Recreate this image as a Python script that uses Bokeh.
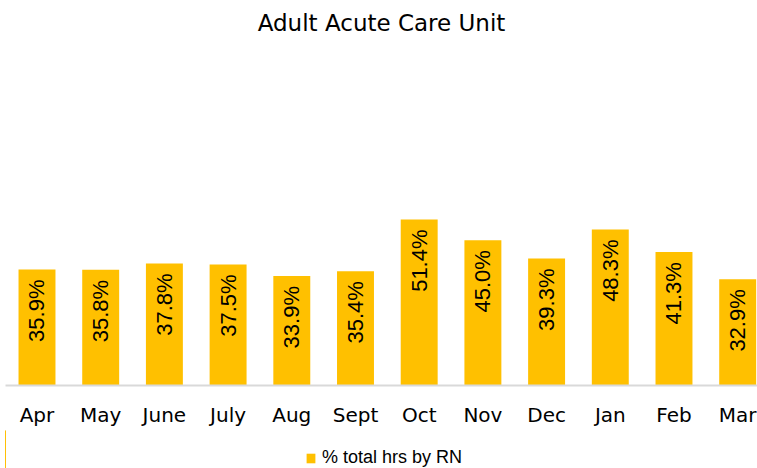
import math
from bokeh.plotting import figure
from bokeh.layouts import column
from bokeh.models import Range1d, FixedTicker, ColumnDataSource, Legend, LegendItem, Title
from bokeh.core.properties import value
from bokeh.embed import file_html
from bokeh.resources import INLINE

months = ["Apr", "May", "June", "July", "Aug", "Sept", "Oct", "Nov", "Dec", "Jan", "Feb", "Mar"]
rn_pct = [35.9, 35.8, 37.8, 37.5, 33.9, 35.4, 51.4, 45.0, 39.3, 48.3, 41.3, 32.9]
series_name = "% total hrs by RN"
title_text = "Adult Acute Care Unit"
bar_color = "#FFC000"

idx = list(range(len(months)))
labels = [f"{v:.1f}%" for v in rn_pct]
src = ColumnDataSource(data=dict(x=idx, top=rn_pct, label=labels))

p = figure(frame_width=752, frame_height=323, output_backend="svg", toolbar_location=None,
           x_range=Range1d(-0.4945, 11.311), y_range=Range1d(0, 100),
           min_border_left=5, min_border_right=0, min_border_top=62, min_border_bottom=45)

title = Title(text=title_text, align="center", text_font="DejaVu Sans",
              text_font_size="23px", text_font_style="normal", text_color="#000000",
              standoff=0, text_line_height=1.0)
try:
    title.padding = dict(left=0, right=0, top=0, bottom=27)
except Exception:
    title.standoff = 27
p.title = title

bars = p.vbar(x="x", top="top", width=0.58, bottom=0, source=src,
              fill_color=bar_color, line_color=None)

p.text(x="x", y="top", text="label", source=src, angle=math.pi / 2,
       text_align="right", text_baseline="middle", y_offset=10,
       text_font=value("Liberation Sans"), text_font_size="22px", text_color="#000000")

p.yaxis.visible = False
p.xgrid.visible = False
p.ygrid.visible = False
p.outline_line_color = None

ax = p.xaxis[0]
ax.ticker = FixedTicker(ticks=idx)
ax.major_label_overrides = {i: m for i, m in zip(idx, months)}
ax.major_tick_line_color = None
ax.minor_tick_line_color = None
ax.major_tick_out = 0
ax.major_tick_in = 0
ax.axis_line_color = "#D9D9D9"
ax.axis_line_width = 2
ax.major_label_standoff = 17
ax.major_label_text_font = "DejaVu Sans"
ax.major_label_text_font_size = "20px"
ax.major_label_text_color = "#000000"

# legend strip below the chart (same series, drawn outside its visible range)
lf = figure(width=757, height=38, output_backend="svg", toolbar_location=None,
            x_range=Range1d(100, 101), y_range=Range1d(0, 1),
            x_axis_location=None, y_axis_location=None, min_border=0)
lf.xgrid.visible = False
lf.ygrid.visible = False
lf.outline_line_color = None
lbars = lf.vbar(x="x", top="top", width=0.58, bottom=0, source=src,
                fill_color=bar_color, line_color=None)

legend = Legend(items=[LegendItem(label=series_name, renderers=[lbars])],
                orientation="horizontal", location=(300, 0),
                label_text_font="Liberation Sans", label_text_font_size="18px",
                label_text_color="#000000", label_height=12,
                glyph_width=11, glyph_height=12,
                label_standoff=6, border_line_color=None, background_fill_alpha=0,
                padding=0, margin=0)
lf.add_layout(legend, "center")

layout = column(p, lf, spacing=0)
open("out.html", "w").write(file_html(layout, INLINE))
